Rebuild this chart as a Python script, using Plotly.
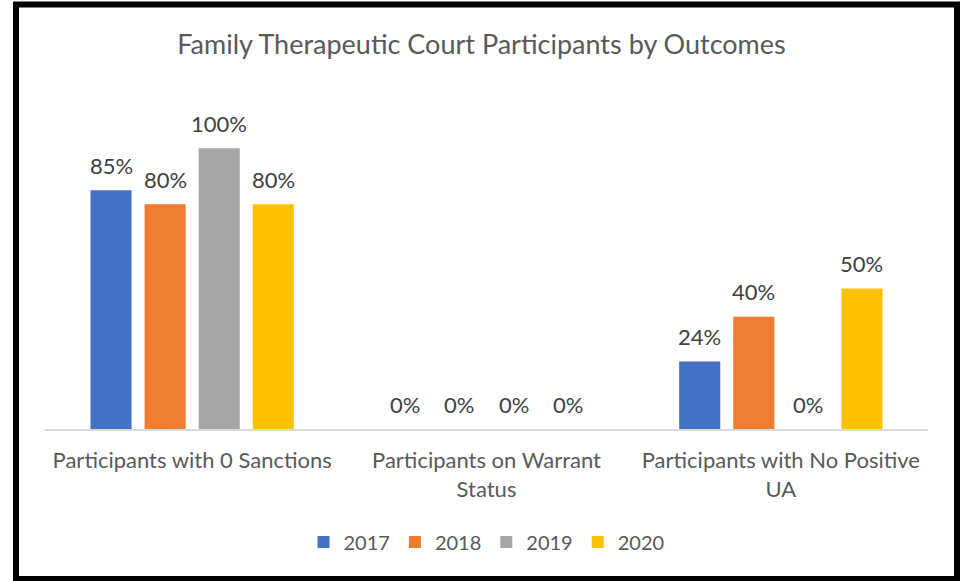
import plotly.graph_objects as go

# Outcome categories and percentage of participants per year
categories = [
    "Participants with 0 Sanctions",
    "Participants on Warrant<br>Status",
    "Participants with No Positive<br>UA",
]
years = ["2017", "2018", "2019", "2020"]
values = {
    "2017": [0.85, 0.0, 0.24],
    "2018": [0.80, 0.0, 0.40],
    "2019": [1.00, 0.0, 0.0],
    "2020": [0.80, 0.0, 0.50],
}
colors = {"2017": "#4472C4", "2018": "#ED7D31", "2019": "#A5A5A5", "2020": "#FFC000"}

W, H = 963, 581
ML, MR, MT, MB = 45, 35, 92, 152
FONT = "Lato, 'Open Sans', sans-serif"
BARGAP, GROUPGAP = 0.265, 0.24

fig = go.Figure()
for y in years:
    fig.add_trace(go.Bar(
        name=y,
        x=list(range(len(categories))),
        y=values[y],
        marker=dict(color=colors[y], line=dict(width=0)),
    ))

# value labels above each bar, placed at the grouped bar centres
slot = (1 - BARGAP) / len(years)
for i, y in enumerate(years):
    off = (i - (len(years) - 1) / 2) * slot
    for j, v in enumerate(values[y]):
        fig.add_annotation(x=j + off, y=v, xref="x", yref="y",
                           text=f"{v:.0%}", showarrow=False,
                           yanchor="middle", yshift=25,
                           font=dict(size=22, color="#404040", family=FONT))

# outer frame drawn in paper coordinates derived from the margins
pw, ph = W - ML - MR, H - MT - MB
def px_x(p): return (p - ML) / pw
def px_y(p): return (H - MB - p) / ph

fig.add_shape(type="rect", xref="paper", yref="paper",
              x0=px_x(16), x1=px_x(957), y0=px_y(579), y1=px_y(4.5),
              line=dict(color="black", width=6), layer="above")

fig.update_layout(
    width=W, height=H,
    margin=dict(l=ML, r=MR, t=MT, b=MB),
    paper_bgcolor="white", plot_bgcolor="white",
    barmode="group", bargap=BARGAP, bargroupgap=GROUPGAP,
    title=dict(text="Family Therapeutic Court Participants by Outcomes",
               x=0.5, xanchor="center", y=1 - 45 / H, yanchor="middle",
               font=dict(size=27, color="#595959", family=FONT)),
    xaxis=dict(showline=True, linecolor="#D9D9D9", linewidth=1.5,
               tickmode="array", tickvals=list(range(len(categories))),
               ticktext=categories, range=[-0.5, len(categories) - 0.5],
               ticks="", ticklabelstandoff=11,
               tickfont=dict(size=22, color="#595959", family=FONT),
               fixedrange=True),
    yaxis=dict(range=[0, 1.2], visible=False, showgrid=False, fixedrange=True),
    legend=dict(orientation="h", x=0.5, xanchor="center", y=px_y(542), yanchor="middle",
                font=dict(size=20, color="#595959", family=FONT),
                itemwidth=30, traceorder="normal"),
    showlegend=True,
)

fig.write_html("out.html")
